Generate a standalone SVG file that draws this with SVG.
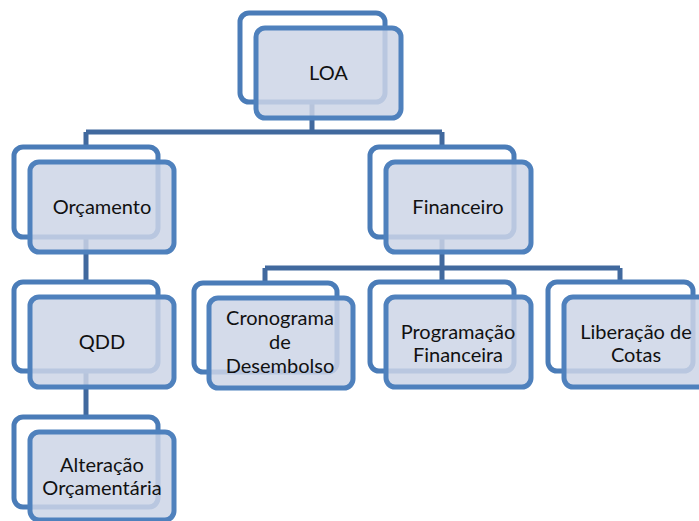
<svg xmlns="http://www.w3.org/2000/svg" width="699" height="521" viewBox="0 0 699 521">
<style>
.bg{fill:#ffffff}
.conn{fill:none;stroke:#41699E;stroke-width:5}
.back{fill:none;stroke:#4A7CB8;stroke-width:5}
.front{fill:#CCD5E6;fill-opacity:0.85;stroke:#4F81BD;stroke-width:5}
.lbl{font-family:Lato,"Liberation Sans",sans-serif;font-size:20px;fill:#111111;text-anchor:middle}
</style>
<rect class="bg" x="0" y="0" width="699" height="521"/>
<g id="connectors">
<path class="conn" d="M312,102 V132 M86,132 H442 M86,132 V147 M442,132 V147"/>
<path class="conn" d="M86,237 V282"/>
<path class="conn" d="M86,371 V417"/>
<path class="conn" d="M442,237 V268 M265,268 H620 M265,268 V283 M442,268 V282 M620,268 V282"/>
</g>
<g id="loa">
<rect class="back" x="240" y="13" width="145" height="89" rx="9"/>
<rect class="front" x="256" y="28" width="145" height="90" rx="9"/>
<text class="lbl" x="328.5" y="80">LOA</text>
</g>
<g id="orcamento">
<rect class="back" x="14" y="147" width="144" height="90" rx="9"/>
<rect class="front" x="30" y="162" width="144" height="90" rx="9"/>
<text class="lbl" x="102" y="214">Orçamento</text>
</g>
<g id="financeiro">
<rect class="back" x="370" y="147" width="144" height="90" rx="9"/>
<rect class="front" x="386" y="162" width="145" height="90" rx="9"/>
<text class="lbl" x="458" y="214">Financeiro</text>
</g>
<g id="qdd">
<rect class="back" x="14" y="282" width="144" height="89" rx="9"/>
<rect class="front" x="30" y="297" width="144" height="90" rx="9"/>
<text class="lbl" x="102" y="349">QDD</text>
</g>
<g id="alteracao">
<rect class="back" x="14" y="417" width="144" height="90" rx="9"/>
<rect class="front" x="30" y="432" width="144" height="88" rx="9"/>
<text class="lbl" x="102" y="472">Alteração</text>
<text class="lbl" x="102" y="495">Orçamentária</text>
</g>
<g id="cronograma">
<rect class="back" x="194" y="283" width="143" height="89" rx="9"/>
<rect class="front" x="209" y="298" width="144" height="90" rx="9"/>
<text class="lbl" x="280" y="325">Cronograma</text>
<text class="lbl" x="280" y="349">de</text>
<text class="lbl" x="280" y="373">Desembolso</text>
</g>
<g id="programacao">
<rect class="back" x="370" y="282" width="144" height="89" rx="9"/>
<rect class="front" x="386" y="297" width="145" height="90" rx="9"/>
<text class="lbl" x="458" y="339">Programação</text>
<text class="lbl" x="458" y="362">Financeira</text>
</g>
<g id="liberacao">
<rect class="back" x="548" y="282" width="145" height="89" rx="9"/>
<rect class="front" x="564" y="297" width="145" height="90" rx="9"/>
<text class="lbl" x="636" y="339">Liberação de</text>
<text class="lbl" x="636" y="362">Cotas</text>
</g>
</svg>
